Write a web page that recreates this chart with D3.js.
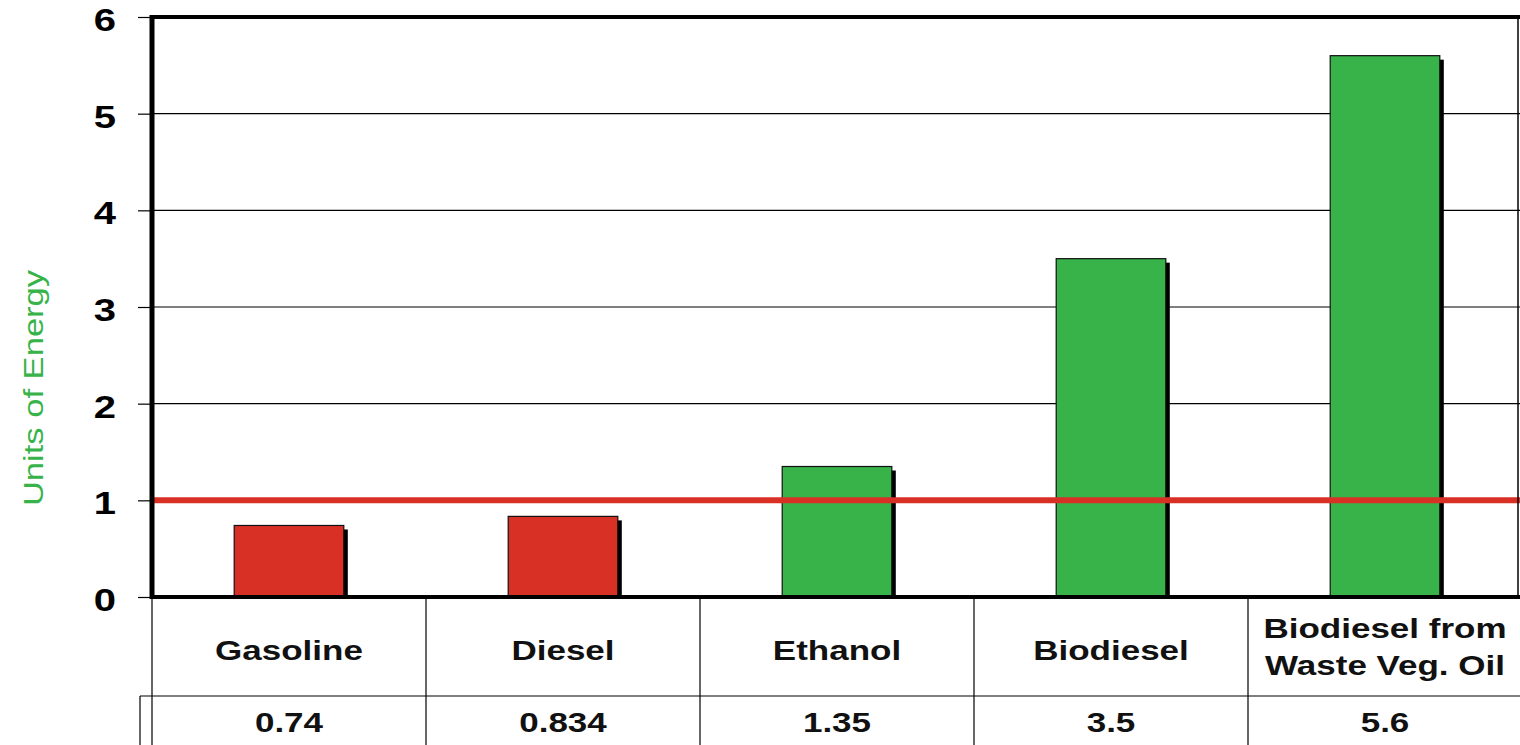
<!DOCTYPE html>
<html><head><meta charset="utf-8">
<script src="https://cdn.jsdelivr.net/npm/d3@7"></script>
<style>body{margin:0;background:#fff;}svg{display:block;}</style>
</head><body>
<svg id="chart" width="1520" height="745"></svg>
<script>
const categories = ["Gasoline","Diesel","Ethanol","Biodiesel","Biodiesel from\nWaste Veg. Oil"];
const values = [0.74, 0.834, 1.35, 3.5, 5.6];
const valueLabels = ["0.74","0.834","1.35","3.5","5.6"];
const barColors = ["#d93026","#d93026","#37b34a","#37b34a","#37b34a"];
const yTicks = [0,1,2,3,4,5,6];
const breakEven = 1;

const svg = d3.select("#chart");
const font = "Liberation Sans, Arial, sans-serif";
const L = 152, R = 1522, T = 17, B = 597;
const x = d3.scaleBand().domain(categories).range([L, R]).paddingInner(0.6).paddingOuter(0.3);
const y = d3.scaleLinear().domain([0, 6]).range([B, T]);
const colX = d3.scaleBand().domain(categories).range([L, R]);
const SX = 1.25;

// gridlines
svg.append("g").selectAll("line").data(yTicks.filter(d=>d>0&&d<6)).join("line")
  .attr("x1", L).attr("x2", R).attr("y1", d=>y(d)).attr("y2", d=>y(d))
  .attr("stroke", "#000").attr("stroke-width", 1.2);

// y axis ticks
const yAxis = svg.append("g").attr("transform", `translate(${L},0)`)
  .call(d3.axisLeft(y).tickValues(yTicks).tickSize(14).tickFormat(""));
yAxis.select(".domain").remove();
yAxis.selectAll(".tick line").attr("stroke", "#000").attr("stroke-width", 1.2);
yAxis.selectAll(".tick text").remove();
svg.append("g").selectAll("g").data(yTicks).join("g")
  .attr("transform", d=>`translate(116,${y(d) + 3}) scale(${SX},1)`)
  .append("text").attr("text-anchor","end").attr("dominant-baseline","central")
  .attr("font-family", font).attr("font-weight","bold").attr("font-size",32).attr("fill","#000")
  .text(d=>d3.format("d")(d));

// bars: shadow + bar
const bars = svg.append("g");
bars.selectAll("rect.shadow").data(values).join("rect").attr("class","shadow")
  .attr("x", (d,i)=>x(categories[i]) + 4).attr("y", d=>y(d) + 4)
  .attr("width", x.bandwidth()).attr("height", d=>B - y(d) - 4)
  .attr("fill", "#000");
bars.selectAll("rect.bar").data(values).join("rect").attr("class","bar")
  .attr("x", (d,i)=>x(categories[i])).attr("y", d=>y(d))
  .attr("width", x.bandwidth()).attr("height", d=>B - y(d))
  .attr("fill", (d,i)=>barColors[i]).attr("stroke", "#111").attr("stroke-width", 1.2);

// break-even line
svg.append("line").attr("x1", L).attr("x2", R).attr("y1", y(breakEven)).attr("y2", y(breakEven))
  .attr("stroke", "#d93026").attr("stroke-width", 6);

// frame
svg.append("line").attr("x1", L).attr("x2", R).attr("y1", T).attr("y2", T).attr("stroke","#000").attr("stroke-width",4);
svg.append("line").attr("x1", L).attr("x2", L).attr("y1", T-2).attr("y2", B+2).attr("stroke","#000").attr("stroke-width",5);
svg.append("line").attr("x1", 1518).attr("x2", 1518).attr("y1", T).attr("y2", B).attr("stroke","#000").attr("stroke-width",1.5);
svg.append("line").attr("x1", L).attr("x2", R).attr("y1", B).attr("y2", B).attr("stroke","#000").attr("stroke-width",4);

// table
const rowSplit = 696;
const tbl = svg.append("g");
tbl.selectAll("line.col").data(categories.slice(1)).join("line").attr("class","col")
  .attr("x1", d=>colX(d)).attr("x2", d=>colX(d)).attr("y1", B).attr("y2", 745)
  .attr("stroke","#000").attr("stroke-width",1.2);
tbl.append("line").attr("x1", L).attr("x2", L).attr("y1", B).attr("y2", 745).attr("stroke","#000").attr("stroke-width",1.2);
tbl.append("line").attr("x1", 140).attr("x2", R).attr("y1", rowSplit).attr("y2", rowSplit).attr("stroke","#000").attr("stroke-width",1.2);
tbl.append("line").attr("x1", 140).attr("x2", 140).attr("y1", rowSplit).attr("y2", 745).attr("stroke","#000").attr("stroke-width",1.2);

tbl.selectAll("g.cat").data(categories).join("g").attr("class","cat")
  .attr("transform", d=>`translate(${colX(d) + colX.bandwidth()/2},650) scale(${SX},1)`)
  .append("text")
  .attr("text-anchor","middle").attr("dominant-baseline","central")
  .attr("font-family", font).attr("font-weight","bold").attr("font-size",28).attr("fill","#111")
  .each(function(d){
    const lines = d.split("\n");
    const t = d3.select(this);
    lines.forEach((ln,i)=>{
      t.append("tspan").attr("x", 0)
        .attr("dy", i===0 ? (lines.length > 1 ? (-(lines.length-1)*37/2 - 3) : 0) : 37).text(ln);
    });
  });
tbl.selectAll("g.val").data(valueLabels).join("g").attr("class","val")
  .attr("transform", (d,i)=>`translate(${colX(categories[i]) + colX.bandwidth()/2},722) scale(${SX},1)`)
  .append("text")
  .attr("text-anchor","middle").attr("dominant-baseline","central")
  .attr("font-family", font).attr("font-weight","bold").attr("font-size",28).attr("fill","#111")
  .text(d=>d);

// y axis title
svg.append("text").attr("transform", `translate(34,388) rotate(-90) scale(1.28,1)`)
  .attr("text-anchor","middle").attr("dominant-baseline","central")
  .attr("font-family", font).attr("font-size",27).attr("fill","#37b34a")
  .text("Units of Energy");
</script>
</body></html>
